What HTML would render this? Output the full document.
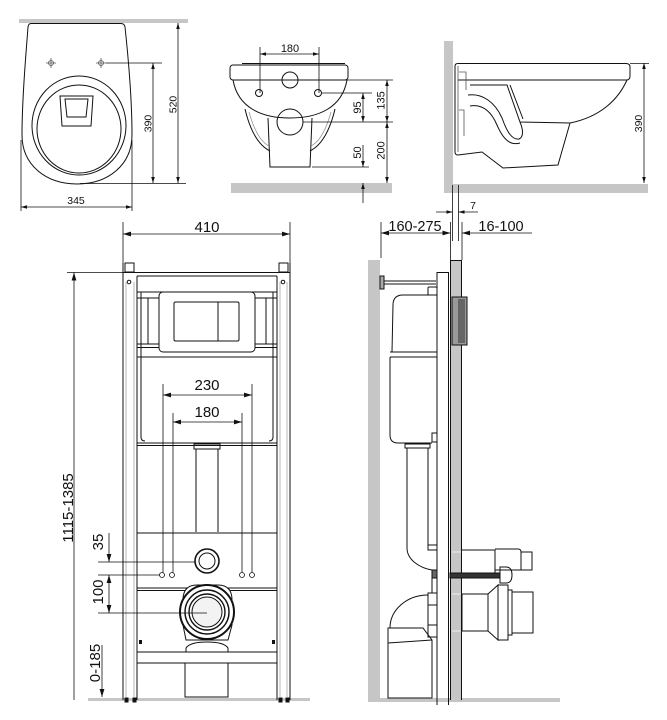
<!DOCTYPE html>
<html><head><meta charset="utf-8"><style>
html,body{margin:0;padding:0;background:#fff;}
svg{display:block;}
text{font-family:"Liberation Sans",Arial,sans-serif;fill:#111;}
</style></head><body>
<svg width="667" height="720" viewBox="0 0 667 720" xmlns="http://www.w3.org/2000/svg">
<defs>
<marker id="a" viewBox="0 0 10 6" markerWidth="8" markerHeight="5" refX="10" refY="3" orient="auto-start-reverse" markerUnits="userSpaceOnUse"><path d="M0,0 L10,3 L0,6 Z" fill="#111"/></marker>
<marker id="b" viewBox="0 0 10 6" markerWidth="6" markerHeight="4" refX="10" refY="3" orient="auto-start-reverse" markerUnits="userSpaceOnUse"><path d="M0,0 L10,3 L0,6 Z" fill="#111"/></marker>
</defs>

<!-- ============ TOP LEFT: top view of bowl ============ -->
<rect x="19" y="19" width="169" height="4" fill="#c6c6c6"/>
<g fill="none" stroke="#111" stroke-width="1">
<path d="M31,23.5 L121,23.5 Q124.5,23.5 125,27 C128,55 132,95 132,135 C132,165 108,184 77,184 C46,184 22,165 22,135 C22,95 26,55 28,27 Q28.5,23.5 31,23.5 Z"/>
<ellipse cx="79" cy="125.5" rx="47" ry="49.5"/>
<ellipse cx="79" cy="129" rx="42" ry="44"/>
<path d="M60,96 L93,96 L91,126 L62,126 Z"/>
<path d="M65,99 L88,99 L86,117 L67,117 Z"/>
</g>
<g fill="none" stroke="#555" stroke-width="0.8">
<circle cx="51" cy="63" r="2.5"/><path d="M46,63H56M51,58V68"/>
<circle cx="101" cy="63" r="2.5"/><path d="M96,63H106M101,58V68"/>
</g>
<g fill="none" stroke="#111" stroke-width="0.8">
<path d="M106,63H162 M80,183.5H186 M21,140V211 M132,140V211"/>
<line x1="153" y1="63" x2="153" y2="183" marker-start="url(#b)" marker-end="url(#b)"/>
<line x1="178" y1="23" x2="178" y2="183" marker-start="url(#b)" marker-end="url(#b)"/>
<line x1="21" y1="207" x2="132" y2="207" marker-start="url(#b)" marker-end="url(#b)"/>
</g>
<text x="76" y="204" font-size="10.5" text-anchor="middle">345</text>
<text transform="translate(151.5,123.5) rotate(-90)" font-size="10.5" text-anchor="middle">390</text>
<text transform="translate(176.5,104.5) rotate(-90)" font-size="10.5" text-anchor="middle">520</text>

<!-- ============ TOP MIDDLE: front view of bowl ============ -->
<rect x="231" y="183" width="161" height="10" fill="#c6c6c6"/>
<g fill="none" stroke="#111" stroke-width="1">
<path d="M242,63.5 H345"/>
<rect x="230" y="65" width="118" height="15" rx="3"/>
<path d="M233,80 C238,108 262,118 290,118 C318,118 342,108 347,80"/>
<path d="M245,109 C250,130 258,145 270,151"/>
<path d="M335,109 C330,130 322,145 310,151"/>
<path d="M268,118 L270,167 L310,167 L312,118"/>
<circle cx="290" cy="80" r="8"/>
<circle cx="290" cy="122" r="13"/>
<circle cx="259" cy="93" r="3.5"/>
<circle cx="318" cy="93" r="3.5"/>
</g>
<g fill="none" stroke="#888" stroke-width="0.7">
<path d="M249,112 C254,130 261,142 269,146"/>
<path d="M331,112 C326,130 319,142 311,146"/>
</g>
<g fill="none" stroke="#111" stroke-width="0.8">
<path d="M260,47V93 M319,47V93"/>
<line x1="260" y1="54" x2="319" y2="54" marker-start="url(#b)" marker-end="url(#b)"/>
<path d="M298,80H393 M322,93H372 M303,122H393 M312,167H369"/>
<line x1="387" y1="80" x2="387" y2="122" marker-start="url(#b)" marker-end="url(#b)"/>
<line x1="387" y1="122" x2="387" y2="183" marker-start="url(#b)" marker-end="url(#b)"/>
<line x1="363" y1="93" x2="363" y2="122" marker-start="url(#b)" marker-end="url(#b)"/>
<line x1="363" y1="145" x2="363" y2="167" marker-end="url(#b)"/>
<line x1="363" y1="203" x2="363" y2="183" marker-end="url(#b)"/>
</g>
<text x="290" y="52" font-size="11" text-anchor="middle">180</text>
<text transform="translate(384.5,100.5) rotate(-90)" font-size="11" text-anchor="middle">135</text>
<text transform="translate(384.5,150.5) rotate(-90)" font-size="11" text-anchor="middle">200</text>
<text transform="translate(361,107.5) rotate(-90)" font-size="11" text-anchor="middle">95</text>
<text transform="translate(361,152.5) rotate(-90)" font-size="11" text-anchor="middle">50</text>

<!-- ============ TOP RIGHT: side view of bowl ============ -->
<rect x="444" y="41" width="9" height="152" fill="#c6c6c6"/>
<rect x="453" y="184" width="195" height="9" fill="#c6c6c6"/>
<g fill="none" stroke="#111" stroke-width="1">
<path d="M458,63.5 L626,63.5 Q630,63.5 630,67 L630,76 Q630,79.5 627,80 L458,80"/>
<path d="M627,80 C618,100 600,117 570,123 L558,165 L503,168 L482,152 L458,155 Q455,155 455,152 L455,66 Q455,63.5 458,63.5"/>
<path d="M470,85 L507,85 L520,122 L570,123"/>
<path d="M510,85 L523,119"/>
<path d="M468,95 C482,93 495,102 502,118 C507,132 512,140 519,139 C524,137 523,129 520,122"/>
<path d="M470,106 C482,104 491,111 497,125 C503,139 510,146 520,143"/>
</g>
<g fill="none" stroke="#555" stroke-width="0.8">
<path d="M458,66V152 M459,72H466V90 M459,110H464V136"/>
</g>
<g fill="none" stroke="#111" stroke-width="0.8">
<path d="M630,63.5H649"/>
<line x1="644" y1="63" x2="644" y2="183" marker-start="url(#b)" marker-end="url(#b)"/>
<path d="M452.5,185V241 M458.5,185V241"/>
<line x1="436" y1="212" x2="452.5" y2="212" marker-end="url(#b)"/>
<line x1="478" y1="212" x2="458.5" y2="212" marker-end="url(#b)"/>
</g>
<text transform="translate(642,123.5) rotate(-90)" font-size="10.5" text-anchor="middle">390</text>
<text x="473" y="209" font-size="10.5" text-anchor="middle">7</text>

<!-- ============ 160-275 / 16-100 dims ============ -->
<g fill="none" stroke="#111" stroke-width="0.8">
<path d="M381,222V258 M450.5,222V272 M462,222V260"/>
<line x1="381" y1="233" x2="450.5" y2="233" marker-start="url(#a)" marker-end="url(#a)"/>
<line x1="532" y1="233" x2="462" y2="233" marker-end="url(#a)"/>
</g>
<text x="415" y="231" font-size="14.5" text-anchor="middle">160-275</text>
<text x="501" y="231" font-size="14.5" text-anchor="middle">16-100</text>

<!-- ============ BOTTOM RIGHT: side view of frame ============ -->
<rect x="368" y="260" width="12" height="440" fill="#c6c6c6"/>
<rect x="451" y="260" width="10" height="440" fill="#c6c6c6"/>
<rect x="368" y="698" width="192" height="4" fill="#c6c6c6"/>
<g fill="none" stroke="#111" stroke-width="1">
<path d="M450.5,260V700 M461.5,260V700 M450.5,260.5H461.5"/>
<path d="M437,272.5H448.5 M437,272V705 M448.5,272V705"/>
<path d="M382,281H436 M382,284H436"/>
<rect x="380" y="276" width="4" height="13" fill="#aaa"/>
<rect x="452" y="297" width="15" height="48" fill="#999"/>
<rect x="458" y="299" width="7" height="44" fill="#666" stroke="none"/>
<path d="M437,295 H403 Q393,295 393,305 L392,352 M390,352 H437 M390,357 H437 M390,357 L390,435 Q390,443 398,443 H432"/>
<rect x="428" y="287" width="9" height="8" rx="1"/>
<rect x="432" y="433" width="5" height="9"/>
<rect x="405" y="444" width="25" height="4"/>
<path d="M407,448 V548 C407,560 420,568 432,570 M428,448 V550"/>
<rect x="428" y="545" width="9" height="5"/>
<rect x="432" y="570" width="5" height="8" fill="#666"/>
<path d="M432,578 V593"/>
<path d="M428,595 A38,33 0 0 0 390,628"/>
<rect x="428" y="593" width="9" height="44"/>
<path d="M428,605H437 M428,625H437"/>
<path d="M388,628 L423,628 L432,640 L432,698 L388,698 Z"/>
<path d="M388,643 L432,640"/>
<path d="M462,550 H495 V573"/>
<path d="M495,549 H518 Q521,549 521,552 V570 H495"/>
<rect x="521" y="552" width="11" height="18"/>
<rect x="450" y="573" width="50" height="5" fill="#333"/>
<path d="M500,567 H506 Q512,567 512,575 Q512,583 506,583 H500 Z"/>
<rect x="462" y="594" width="26" height="37"/>
<path d="M488,594 L498,585 L498,640 L488,631"/>
<rect x="498" y="585" width="10" height="55"/>
<rect x="508" y="590" width="4" height="45"/>
<rect x="512" y="592" width="21" height="41"/>
</g>
<g stroke="#eee" stroke-width="1"><path d="M452,552H461 M452,594H461 M452,631H461"/></g>

<!-- ============ BOTTOM LEFT: front view of frame ============ -->
<rect x="88" y="698" width="222" height="3" fill="#c6c6c6"/>
<g fill="none" stroke="#111" stroke-width="0.8">
<line x1="74" y1="272.5" x2="74" y2="700" marker-start="url(#a)"/>
<path d="M67,272.5H123"/>
<line x1="123" y1="234" x2="290" y2="234" marker-start="url(#a)" marker-end="url(#a)"/>
<path d="M123,222V263 M290,222V263"/>
</g>
<text x="207" y="232" font-size="15" text-anchor="middle">410</text>
<text transform="translate(73,508) rotate(-90)" font-size="15" text-anchor="middle">1115-1385</text>

<g fill="none" stroke="#111" stroke-width="1">
<path d="M123,263V700 M137,276V700 M277,276V700 M290,263V700"/>
<path d="M123,272.5H290 M137,276H277"/>
<rect x="125" y="263" width="9" height="9"/>
<rect x="279" y="263" width="9" height="9"/>
<circle cx="129" cy="282" r="1.8"/>
<circle cx="283" cy="282" r="1.8"/>
<path d="M137,292H277 M137,443H277 M137,445.5H277"/>
<path d="M141,292V437 Q141,441 145,441 M273,292V437 Q273,441 269,441"/>
<path d="M148,298V344 M266,298V344"/>
<path d="M137,298H159 M255,298H277 M137,344H159 M255,344H277 M137,347.5H277 M137,357H277"/>
<rect x="159" y="292" width="96" height="60" rx="4" fill="#fff"/>
<rect x="174" y="302" width="65" height="39" rx="1.5"/>
<path d="M218,302V341"/>
<rect x="194" y="444" width="26" height="5"/>
<path d="M196,449V532 M218,449V532"/>
<path d="M137,533H277 M137,588H277 M137,590.5H277 M137,652H277 M137,663H277"/>
<circle cx="207" cy="561" r="12" stroke-width="1.6"/>
<circle cx="207" cy="561" r="8"/>
<path d="M183,600 Q183,585 197,585 L218,585 Q232,585 232,600 L232,625 L228,640 L186,640 L183,625 Z" fill="#fff"/>
<circle cx="207" cy="612" r="27" stroke-width="2" fill="#fff"/>
<circle cx="207" cy="612" r="22" stroke-width="1.4"/>
<circle cx="207" cy="612" r="18" stroke-width="1.4"/>
<circle cx="207" cy="612" r="15" fill="#f3f3f3"/>
<path d="M186,652 L186,648 Q190,642 207,642 Q224,642 228,648 L228,652"/>
<rect x="185" y="663" width="43" height="34"/>
<rect x="125" y="698" width="3" height="4" fill="#111"/>
<rect x="133" y="698" width="3" height="4" fill="#111"/>
<rect x="279" y="698" width="3" height="4" fill="#111"/>
<rect x="286" y="698" width="3" height="4" fill="#111"/>
</g>
<g fill="none" stroke="#999" stroke-width="0.7">
<path d="M126,282V698 M134,282V698 M280,282V698 M287,282V698"/>
</g>
<g fill="#111"><rect x="139" y="640" width="3" height="4"/><rect x="272" y="640" width="3" height="4"/></g>
<g fill="#fff" stroke="#111" stroke-width="0.8">
<circle cx="162" cy="575" r="2.5"/><circle cx="172" cy="575" r="2.5"/>
<circle cx="242" cy="575" r="2.5"/><circle cx="252" cy="575" r="2.5"/>
</g>
<g fill="none" stroke="#111" stroke-width="0.8">
<path d="M163,384V572.5 M252,384V572.5 M173,413V572.5 M242,413V572.5"/>
<line x1="163" y1="395" x2="252" y2="395" marker-start="url(#a)" marker-end="url(#a)"/>
<line x1="173" y1="422" x2="242" y2="422" marker-start="url(#a)" marker-end="url(#a)"/>
<path d="M98,562H195 M98,575H159.5 M98,613H207"/>
<line x1="109" y1="533" x2="109" y2="562" marker-end="url(#a)"/>
<line x1="109" y1="575" x2="109" y2="613" marker-start="url(#a)" marker-end="url(#a)"/>
<line x1="102" y1="645" x2="102" y2="697" marker-end="url(#a)"/>
</g>
<text x="207" y="390" font-size="15" text-anchor="middle">230</text>
<text x="207" y="417" font-size="15" text-anchor="middle">180</text>
<text transform="translate(103,542) rotate(-90)" font-size="15" text-anchor="middle">35</text>
<text transform="translate(103,592) rotate(-90)" font-size="15" text-anchor="middle">100</text>
<text transform="translate(100,663) rotate(-90)" font-size="15" text-anchor="middle">0-185</text>
</svg>
</body></html>
